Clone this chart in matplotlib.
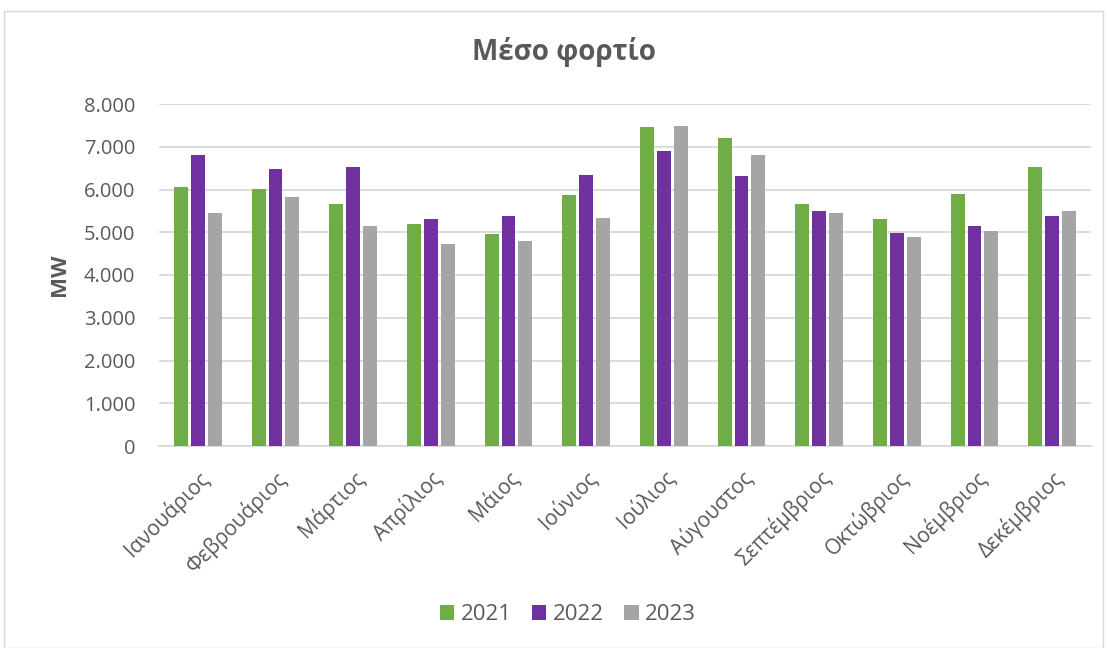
import matplotlib
matplotlib.use("Agg")
import matplotlib.pyplot as plt
import numpy as np
from matplotlib.ticker import FuncFormatter, MultipleLocator
from matplotlib.patches import Rectangle

months = ["Ιανουάριος", "Φεβρουάριος", "Μάρτιος", "Απρίλιος", "Μάιος", "Ιούνιος",
          "Ιούλιος", "Αύγουστος", "Σεπτέμβριος", "Οκτώβριος", "Νοέμβριος", "Δεκέμβριος"]
years = ["2021", "2022", "2023"]
v2021 = [6050, 6020, 5650, 5190, 4970, 5860, 7460, 7200, 5670, 5310, 5900, 6530]
v2022 = [6800, 6490, 6520, 5320, 5370, 6330, 6890, 6310, 5500, 4980, 5140, 5390]
v2023 = [5440, 5820, 5150, 4730, 4800, 5340, 7480, 6800, 5440, 4900, 5030, 5490]
colors = ["#70AD47", "#7030A0", "#A5A5A5"]

plt.rcParams['font.family'] = ['Open Sans', 'DejaVu Sans']
txt = "#595959"

fig = plt.figure(figsize=(11.07, 6.48), dpi=100)
fig.patches.append(Rectangle((4/1107, 0), 1 - 8/1107, 1 - 11/648, transform=fig.transFigure,
                             fill=False, edgecolor="#D9D9D9", linewidth=1))
ax = fig.add_axes([159/1107, 1 - 446/648, (1091 - 159)/1107, (446 - 104)/648])

x = np.arange(len(months))
w = 0.18
step = 0.215
for i, (vals, c, lab) in enumerate(zip([v2021, v2022, v2023], colors, years)):
    ax.bar(x + (i - 1) * step, vals, width=w, color=c, label=lab, zorder=3)

ax.set_xlim(-0.5, len(months) - 0.5)
ax.set_ylim(0, 8000)
ax.yaxis.set_major_locator(MultipleLocator(1000))
ax.yaxis.set_major_formatter(FuncFormatter(lambda v, p: f"{int(v):,}".replace(",", ".")))
ax.grid(axis="y", color="#D9D9D9", linewidth=1.3, zorder=0)
ax.set_axisbelow(True)
for s in ["top", "right", "left"]:
    ax.spines[s].set_visible(False)
ax.spines["bottom"].set_color("#D9D9D9")
ax.spines["bottom"].set_linewidth(1.3)
ax.tick_params(axis="both", length=0, colors=txt, labelsize=14.5)
ax.tick_params(axis="y", pad=17)
ax.set_xticks(x)
ax.set_xticklabels(months, rotation=45, ha="right", rotation_mode="anchor", fontsize=15)
ax.tick_params(axis="x", pad=15)
ax.set_ylabel("MW", fontsize=16, fontweight="bold", color=txt, labelpad=10)

fig.text(564/1107, 1 - 52/648, "Μέσο φορτίο", ha="center", va="center", fontsize=20,
         fontweight="bold", color=txt)

leg = fig.legend(loc="center", bbox_to_anchor=(568/1107, 1 - 615/648), ncol=3, frameon=False,
                 fontsize=16, handlelength=0.65, handleheight=0.65, columnspacing=0.9,
                 handletextpad=0.3)
for t in leg.get_texts():
    t.set_color(txt)

fig.savefig("out.png", dpi=100)
